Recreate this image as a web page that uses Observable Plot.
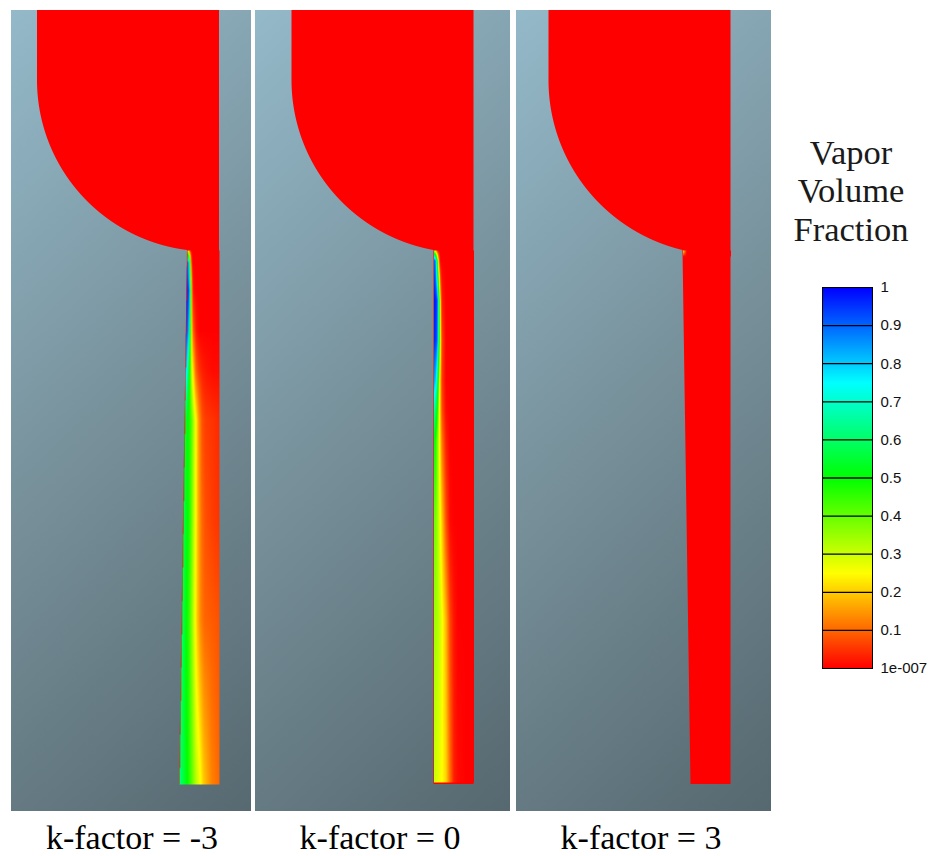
<!DOCTYPE html>
<html>
<head>
<meta charset="utf-8">
<script src="https://cdn.jsdelivr.net/npm/d3@7"></script>
<script src="https://cdn.jsdelivr.net/npm/@observablehq/plot@0.6"></script>
<style>
  body { margin: 0; background: #fff; }
  #root { position: relative; width: 932px; height: 856px; overflow: hidden; background: #fff; }
  .abs { position: absolute; }
  .cap { font-family: "Liberation Serif", "Times New Roman", serif; font-size: 34px; line-height: 34px; color: #000; white-space: nowrap; text-align: center; }
  .ttl { font-family: "Liberation Serif", "Times New Roman", serif; font-size: 34.5px; line-height: 38.5px; color: #1a1a1a; white-space: nowrap; text-align: center; }
  svg { max-width: none !important; }
</style>
</head>
<body>
<div id="root"></div>
<script>
// ---------------- data ----------------
const kFactors = [-3, 0, 3];
const captions = ["k-factor = -3", "k-factor = 0", "k-factor = 3"];
// nozzle geometry, in picture-scale units (1 unit ~ 1 px)
const inletWidth = [32, 40, 48];    // orifice width at its inlet
const outletWidth = [40, 40, 40];   // orifice width at its outlet
const reservoirWidth = 182;
const arcStartDepth = 70;
const throatTopDepth = 240;
const throatBottomDepth = 774;
// vapour volume fraction profiles across the orifice (u = 0 left wall .. 1 right side)
const uGrid = [0, 0.04, 0.08, 0.12, 0.16, 0.2, 0.3, 0.4, 0.5, 0.6, 0.8, 1];
const stationDepth1 = [240, 252, 280, 320, 360, 410, 510, 610, 774];
const stationValues1 = [
  [0.35, 0.2, 0.05, 0, 0, 0, 0, 0, 0, 0, 0, 0],
  [0.9, 0.85, 0.5, 0.1, 0, 0, 0, 0, 0, 0, 0, 0],
  [0.97, 0.95, 0.85, 0.45, 0.1, 0.01, 0, 0, 0, 0, 0, 0],
  [0.93, 0.9, 0.78, 0.5, 0.25, 0.1, 0.02, 0, 0, 0, 0, 0],
  [0.8, 0.72, 0.6, 0.48, 0.35, 0.25, 0.1, 0.05, 0.03, 0.02, 0.01, 0.01],
  [0.56, 0.53, 0.5, 0.48, 0.45, 0.4, 0.27, 0.15, 0.08, 0.06, 0.05, 0.04],
  [0.58, 0.55, 0.52, 0.5, 0.47, 0.43, 0.3, 0.18, 0.11, 0.08, 0.06, 0.05],
  [0.6, 0.57, 0.54, 0.5, 0.47, 0.44, 0.32, 0.2, 0.13, 0.1, 0.09, 0.08],
  [0.62, 0.6, 0.57, 0.55, 0.52, 0.5, 0.42, 0.33, 0.27, 0.2, 0.13, 0.1]
];
const stationDepth2 = [240, 250, 290, 330, 370, 400, 430, 510, 610, 772];
const stationValues2 = [
  [0.35, 0.2, 0.05, 0, 0, 0, 0, 0, 0, 0, 0, 0],
  [0.92, 0.85, 0.5, 0.15, 0, 0, 0, 0, 0, 0, 0, 0],
  [0.98, 0.97, 0.93, 0.6, 0.2, 0.03, 0, 0, 0, 0, 0, 0],
  [0.96, 0.95, 0.9, 0.6, 0.25, 0.07, 0, 0, 0, 0, 0, 0],
  [0.85, 0.8, 0.65, 0.4, 0.18, 0.06, 0, 0, 0, 0, 0, 0],
  [0.65, 0.6, 0.5, 0.33, 0.18, 0.08, 0.01, 0, 0, 0, 0, 0],
  [0.5, 0.47, 0.4, 0.3, 0.2, 0.12, 0.03, 0, 0, 0, 0, 0],
  [0.4, 0.38, 0.35, 0.3, 0.25, 0.2, 0.08, 0.01, 0, 0, 0, 0],
  [0.35, 0.34, 0.33, 0.31, 0.29, 0.26, 0.18, 0.07, 0.02, 0, 0, 0],
  [0.3, 0.29, 0.28, 0.27, 0.26, 0.25, 0.21, 0.11, 0.03, 0.01, 0, 0]
];
const stationDepth3 = [240, 246];
const stationValues3 = [
  [0.25, 0.12, 0, 0, 0, 0, 0, 0, 0, 0, 0, 0],
  [0, 0, 0, 0, 0, 0, 0, 0, 0, 0, 0, 0]
];
const legendTicks = [0, 0.1, 0.2, 0.3, 0.4, 0.5, 0.6, 0.7, 0.8, 0.9, 1];
const legendLabels = ["1e-007", "0.1", "0.2", "0.3", "0.4", "0.5", "0.6", "0.7", "0.8", "0.9", "1"];
const legendTitle = ["Vapor", "Volume", "Fraction"];

// ---------------- layout ----------------
const panelLeft = [11, 255, 516];
const panelRight = [251, 510, 771];
const wallX = [219, 473.5, 730.5];
const captionCenter = [132, 380, 641];
const panelTop = 10, panelHeight = 801;
const stations = [
  [stationDepth1, stationValues1],
  [stationDepth2, stationValues2],
  [stationDepth3, stationValues3]
];

const colorOpts = {type: "linear", domain: [0, 1], interpolate: t => d3.hsl(240 * t, 1, 0.5).formatHex()};

function leftWall(p, depth) {
  const R = reservoirWidth, xc = -inletWidth[p], dy = throatTopDepth - arcStartDepth;
  if (depth <= arcStartDepth) return -R;
  if (depth <= throatTopDepth) {
    const cx = (xc * xc + dy * dy - R * R) / (2 * (R + xc));
    const r = cx + R;
    const d = depth - arcStartDepth;
    return cx - Math.sqrt(Math.max(0, r * r - d * d));
  }
  const f = (depth - throatTopDepth) / (throatBottomDepth - throatTopDepth);
  return -(inletWidth[p] + (outletWidth[p] - inletWidth[p]) * f);
}

function interpRow(row, u) {
  let j = d3.bisectRight(uGrid, u) - 1;
  j = Math.max(0, Math.min(uGrid.length - 2, j));
  const s = (u - uGrid[j]) / (uGrid[j + 1] - uGrid[j]);
  return row[j] + (row[j + 1] - row[j]) * s;
}

function field(p) {
  const [ys, vs] = stations[p];
  return (x, yNeg) => {
    const depth = -yNeg;
    if (depth < ys[0] || depth > ys[ys.length - 1]) return NaN;
    if (depth < throatTopDepth || depth > throatBottomDepth) return NaN;
    const xl = leftWall(p, depth);
    if (x < xl || x > 0) return NaN;
    const u = (x - xl) / (-xl);
    let i = d3.bisectRight(ys, depth) - 1;
    i = Math.max(0, Math.min(ys.length - 2, i));
    const t = (depth - ys[i]) / (ys[i + 1] - ys[i]);
    const a = interpRow(vs[i], u), b = interpRow(vs[i + 1], u);
    return a + (b - a) * t;
  };
}

function bgMark(p) {
  return (index, scales, values, dims) => {
    const g = d3.create("svg:g");
    const id = "bggrad" + p;
    const grad = g.append("defs").append("linearGradient").attr("id", id)
      .attr("gradientUnits", "userSpaceOnUse")
      .attr("x1", 0).attr("y1", 0).attr("x2", 519).attr("y2", 550);
    grad.append("stop").attr("offset", 0).attr("stop-color", "#94b9c9");
    grad.append("stop").attr("offset", 0.5).attr("stop-color", "#768f99");
    grad.append("stop").attr("offset", 1).attr("stop-color", "#566870");
    g.append("rect").attr("width", dims.width).attr("height", dims.height).attr("fill", `url(#${id})`);
    return g.node();
  };
}

function panel(p) {
  const W = panelRight[p] - panelLeft[p];
  const outline = d3.range(0, throatBottomDepth + 0.01, 0.5).map(depth => ({depth, xl: leftWall(p, depth)}));
  const xr = 60;
  return Plot.plot({
    width: W, height: panelHeight, margin: 0,
    x: {domain: [panelLeft[p] - wallX[p], panelRight[p] - wallX[p]], axis: null},
    y: {domain: [-panelHeight, 0], axis: null},
    color: colorOpts,
    style: {background: "transparent", overflow: "visible", maxWidth: "none"},
    marks: [
      bgMark(p),
      Plot.areaX(outline, {y: d => -d.depth, x1: "xl", x2: 0, fill: "#ff0000", curve: "linear"}),
      Plot.raster({
        fill: field(p),
        x1: -xr, x2: 0, y1: -throatBottomDepth, y2: -throatTopDepth,
        width: xr * 2, height: (throatBottomDepth - throatTopDepth) * 2
      })
    ]
  });
}

const root = document.getElementById("root");
kFactors.forEach((k, p) => {
  const svg = panel(p);
  const wrap = document.createElement("div");
  wrap.className = "abs";
  wrap.style.left = panelLeft[p] + "px";
  wrap.style.top = panelTop + "px";
  wrap.appendChild(svg);
  root.appendChild(wrap);

  const cap = document.createElement("div");
  cap.className = "abs cap";
  cap.style.left = (captionCenter[p] - 150) + "px";
  cap.style.width = "300px";
  cap.style.top = "820.5px";
  cap.textContent = captions[p];
  root.appendChild(cap);
});

// colour bar
const bar = Plot.plot({
  width: 130, height: 401,
  marginLeft: 10, marginRight: 70, marginTop: 10, marginBottom: 10,
  x: {domain: [0, 1], axis: null},
  y: {domain: [0, 1], axis: null},
  color: colorOpts,
  style: {background: "transparent", overflow: "visible", maxWidth: "none", fontFamily: "'Liberation Sans', Arial, sans-serif", fontSize: "15px", color: "#111"},
  marks: [
    Plot.raster({fill: (x, y) => y, x1: 0, x2: 1, y1: 0, y2: 1, width: 50, height: 381}),
    Plot.ruleY(legendTicks.slice(1, -1), {stroke: "#000", strokeWidth: 1.3}),
    Plot.frame({stroke: "#000", strokeWidth: 1}),
    Plot.axisY({anchor: "right", ticks: legendTicks, tickSize: 0, tickPadding: 8,
      tickFormat: d => legendLabels[Math.round(d * 10)], label: null, fontSize: 15})
  ]
});
const barWrap = document.createElement("div");
barWrap.className = "abs";
barWrap.style.left = "812px";
barWrap.style.top = "277px";
barWrap.style.width = "130px";
barWrap.appendChild(bar);
root.appendChild(barWrap);

const ttl = document.createElement("div");
ttl.className = "abs ttl";
ttl.style.left = "771px";
ttl.style.width = "160px";
ttl.style.top = "132.5px";
ttl.innerHTML = legendTitle.join("<br>");
root.appendChild(ttl);
</script>
</body>
</html>
